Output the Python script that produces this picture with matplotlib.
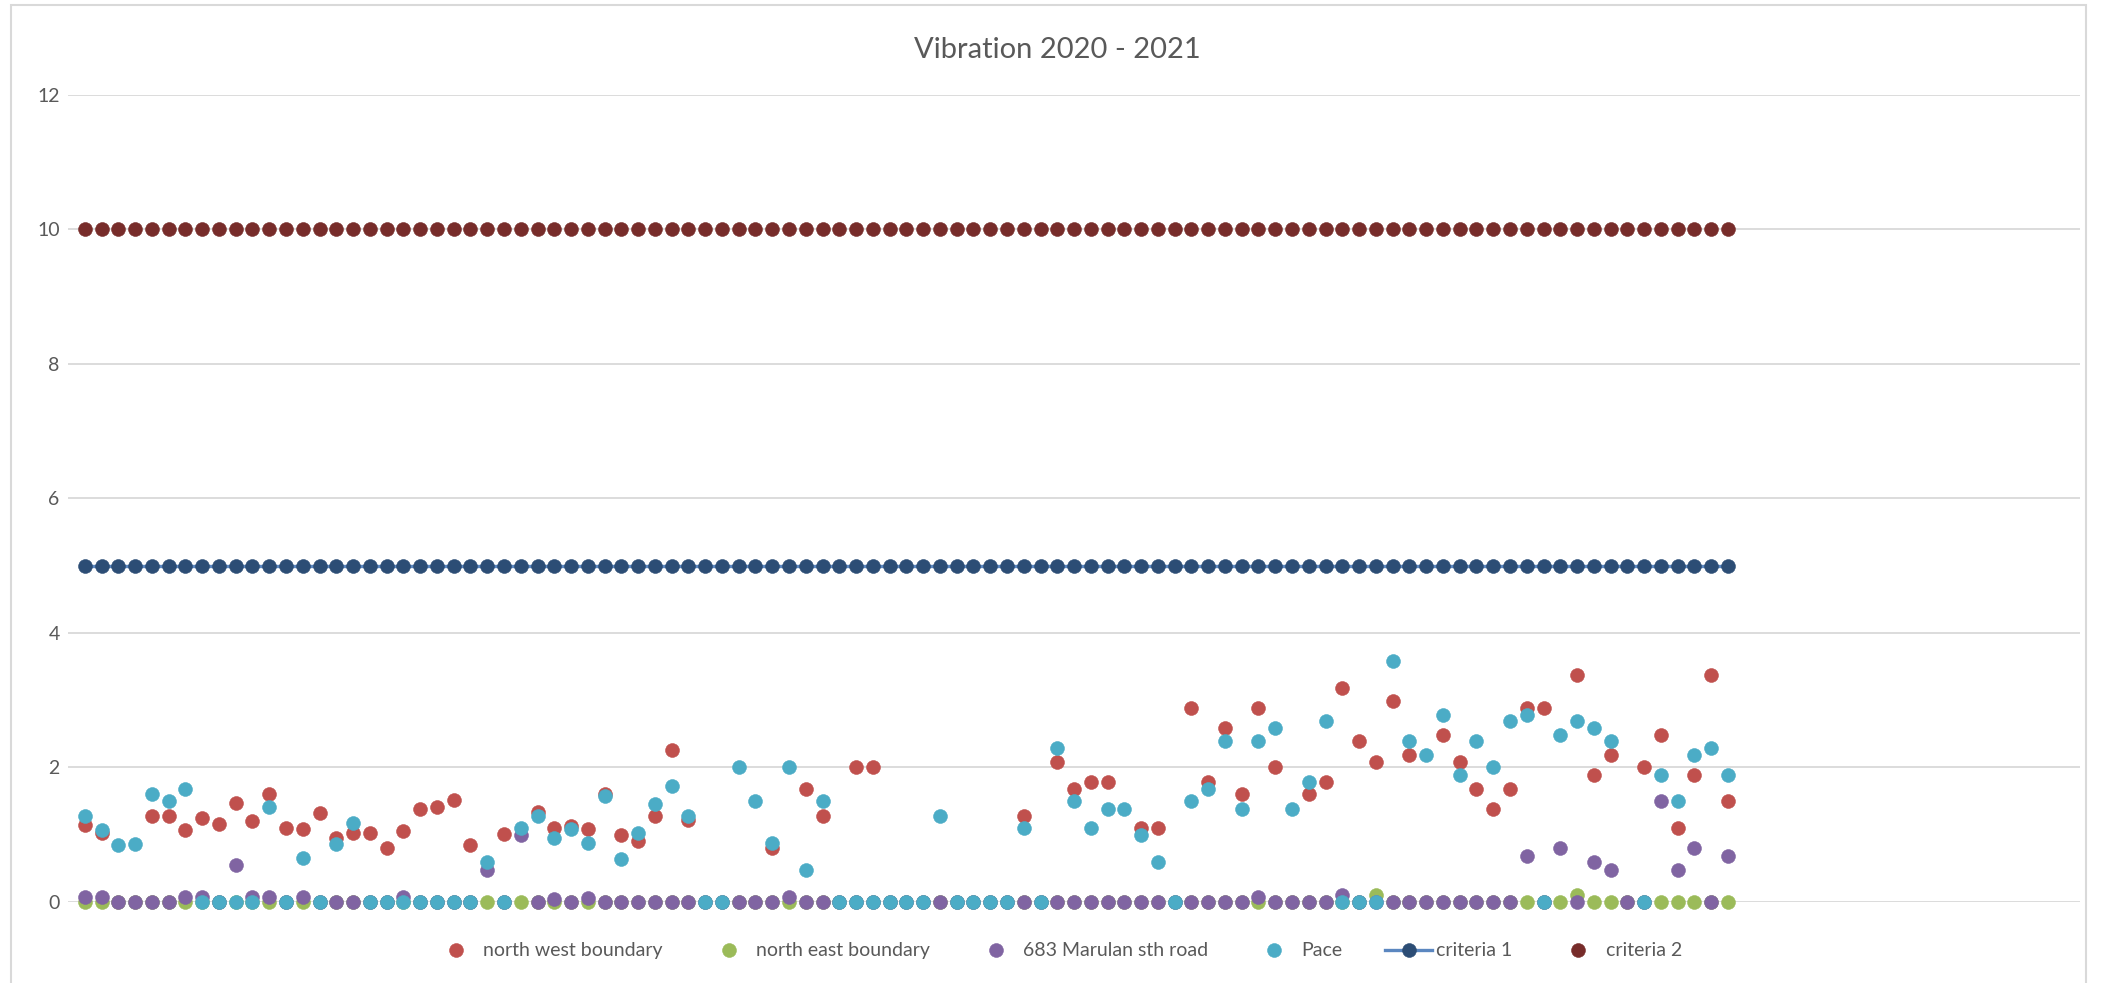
import numpy as np
import matplotlib.pyplot as plt
from matplotlib.patches import Rectangle

plt.rcParams['font.family'] = ['Lato', 'DejaVu Sans']

nan = np.nan

# readings, one value per record (1..99)
north_west = [1.14, 1.02, nan, nan, 1.28, 1.28, 1.07, 1.25, 1.16, 1.47,
              1.20, 1.61, 1.10, 1.08, 1.33, 0.95, 1.02, 1.02, 0.81, 1.06,
              1.39, 1.41, 1.51, 0.85, nan, 1.01, nan, 1.34, 1.10, 1.13,
              1.08, 1.61, 0.99, 0.90, 1.28, 2.26, 1.22, nan, nan, nan,
              nan, 0.80, nan, 1.68, 1.28, nan, 2.00, 2.00, nan, nan,
              nan, nan, nan, nan, nan, nan, 1.28, nan, 2.08, 1.68,
              1.79, 1.79, nan, 1.10, 1.10, nan, 2.88, 1.79, 2.59, 1.60,
              2.88, 2.00, nan, 1.60, 1.79, 3.18, 2.40, 2.08, 2.99, 2.19,
              nan, 2.48, 2.08, 1.68, 1.39, 1.68, 2.89, 2.89, nan, 3.38,
              1.89, 2.19, nan, 2.00, 2.48, 1.10, 1.89, 3.38, 1.50]

north_east = [0.0] * 99
north_east[77] = 0.10
north_east[89] = 0.11

marulan = [0.08, 0.08, 0, 0, 0, 0, 0.08, 0.08, 0, 0.55,
           0.08, 0.08, 0, 0.08, 0, 0, 0, 0, 0, 0.08,
           0, 0, 0, 0, 0.48, 0, 0.99, 0, 0.05, 0,
           0.06, 0, 0, 0, 0, 0, 0, 0, 0, 0,
           0, 0, 0.08, 0, 0, 0, 0, 0, 0, 0,
           0, 0, 0, 0, 0, 0, 0, 0, 0, 0,
           0, 0, 0, 0, 0, 0, 0, 0, 0, 0,
           0.08, 0, 0, 0, 0, 0.10, 0, 0, 0, 0,
           0, 0, 0, 0, 0, 0, 0.69, 0, 0.80, 0,
           0.59, 0.48, 0, 0, 1.50, 0.48, 0.80, 0, 0.69]

pace = [1.28, 1.07, 0.85, 0.86, 1.61, 1.50, 1.68, 0, 0, 0,
        0, 1.42, 0, 0.66, 0, 0.86, 1.18, 0, 0, 0,
        0, 0, 0, 0, 0.59, 0, 1.10, 1.28, 0.95, 1.08,
        0.88, 1.58, 0.64, 1.02, 1.46, 1.73, 1.28, 0, 0, 2.00,
        1.50, 0.88, 2.00, 0.48, 1.50, 0, 0, 0, 0, 0,
        0, 1.28, 0, 0, 0, 0, 1.10, 0, 2.29, 1.50,
        1.10, 1.39, 1.39, 0.99, 0.59, 0, 1.50, 1.68, 2.40, 1.39,
        2.40, 2.59, 1.39, 1.79, 2.69, 0, 0, 0, 3.58, 2.40,
        2.19, 2.78, 1.89, 2.40, 2.00, 2.69, 2.78, 0, 2.48, 2.69,
        2.59, 2.40, nan, 0, 1.89, 1.50, 2.19, 2.29, 1.89]

criteria_1 = [5] * 99
criteria_2 = [10] * 99

x = np.arange(1, len(pace) + 1)

labels = ["north west boundary", "north east boundary", "683 Marulan sth road",
          "Pace", "criteria 1", "criteria 2"]
colors = ["#C0504D", "#9BBB59", "#8064A2", "#4BACC6", "#2C4D75", "#772C2A"]
series = [north_west, north_east, marulan, pace]

fig = plt.figure(figsize=(21.06, 9.83), dpi=100)
ax = fig.add_axes([0.0323, 0.0824, 0.9554, 0.8210])

ms = 10
handles = []
for vals, lab, col in zip(series, labels[:4], colors[:4]):
    h, = ax.plot(x, vals, linestyle='none', marker='o', ms=ms, color=col,
                 mec=col, mew=0.4, clip_on=False, label=lab)
    handles.append(h)

h1, = ax.plot(x, criteria_1, '-', color="#5B87C0", lw=2.4, marker='o', ms=ms,
              mfc=colors[4], mec=colors[4], mew=0.4, clip_on=False, label=labels[4])
h2, = ax.plot(x, criteria_2, linestyle='none', marker='o', ms=ms,
              color=colors[5], mec=colors[5], mew=0.4, clip_on=False, label=labels[5])
handles += [h1, h2]

ax.set_xlim(0, 120)
ax.set_ylim(0, 12)
ax.set_yticks(range(0, 13, 2))
ax.set_xticks([])
ax.grid(axis='y', color='#D9D9D9', lw=1.3)
ax.set_axisbelow(True)
for s in ax.spines.values():
    s.set_visible(False)
ax.tick_params(axis='y', length=0, pad=6, labelsize=14, labelcolor='#595959')

fig.text(0.502, 0.949, "Vibration 2020 - 2021", ha='center', va='center',
         fontsize=21, color='#595959')

fig.legend(handles=handles, loc='center', bbox_to_anchor=(0.502, 0.0326), ncol=6,
           frameon=False, fontsize=14, labelcolor='#595959', handlelength=2.4,
           handletextpad=0.2, columnspacing=2.2)

# light chart-area border
fig.add_artist(Rectangle((0.005, -0.1), 0.9855, 1.095, transform=fig.transFigure,
                         fill=False, edgecolor='#D9D9D9', lw=1.5))

plt.savefig("out.png", dpi=100)
